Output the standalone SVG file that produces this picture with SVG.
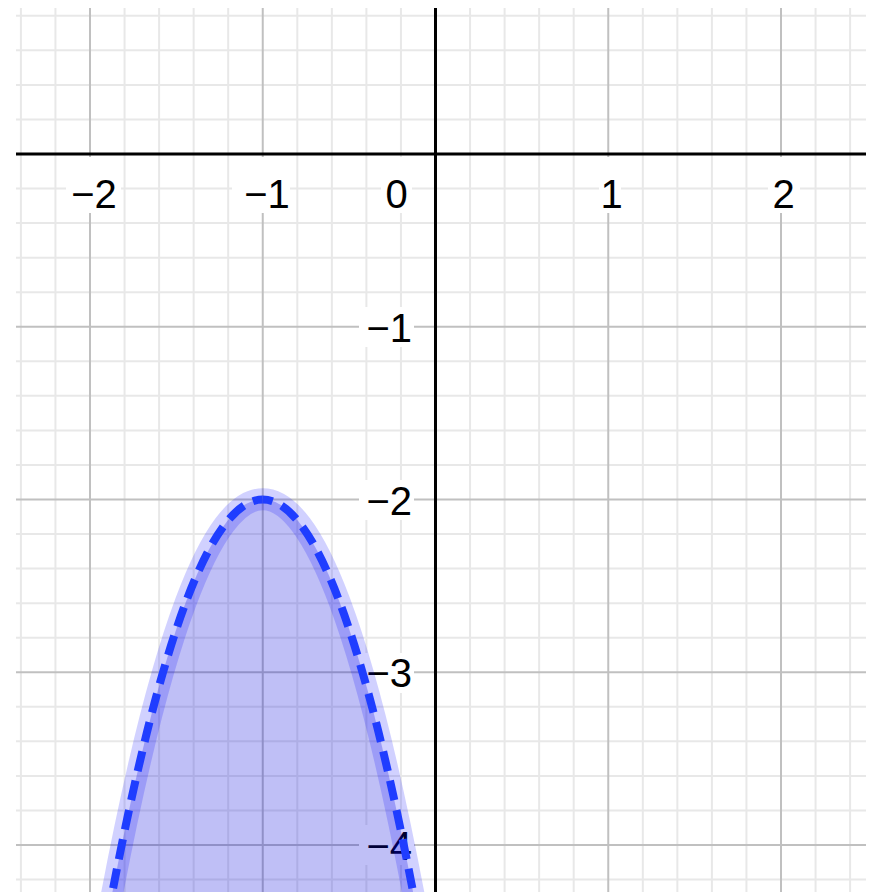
<svg xmlns="http://www.w3.org/2000/svg" width="873" height="892" viewBox="0 0 873 892">
  <style>
    .minor { stroke: #e8e8e8; stroke-width: 2; }
    .major { stroke: #c0c0c0; stroke-width: 2; }
    .axis { stroke: #000; stroke-width: 3; }
    .lbl { font-family: "Liberation Sans", Arial, sans-serif; font-size: 40px; fill: #000; }
    .bg { fill: #fff; }
    .dash { fill: none; stroke: #1f3dff; stroke-width: 8; stroke-dasharray: 20 10; stroke-dashoffset: 10; }
  </style>
  <rect x="0" y="0" width="873" height="892" fill="#fff"/>
  <g id="grid">
    <g class="minor">
      <line x1="20.9" y1="8" x2="20.9" y2="892"/>
      <line x1="55.45" y1="8" x2="55.45" y2="892"/>
      <line x1="124.55" y1="8" x2="124.55" y2="892"/>
      <line x1="159.1" y1="8" x2="159.1" y2="892"/>
      <line x1="193.65" y1="8" x2="193.65" y2="892"/>
      <line x1="228.2" y1="8" x2="228.2" y2="892"/>
      <line x1="297.3" y1="8" x2="297.3" y2="892"/>
      <line x1="331.85" y1="8" x2="331.85" y2="892"/>
      <line x1="366.4" y1="8" x2="366.4" y2="892"/>
      <line x1="400.95" y1="8" x2="400.95" y2="892"/>
      <line x1="470.05" y1="8" x2="470.05" y2="892"/>
      <line x1="504.6" y1="8" x2="504.6" y2="892"/>
      <line x1="539.15" y1="8" x2="539.15" y2="892"/>
      <line x1="573.7" y1="8" x2="573.7" y2="892"/>
      <line x1="642.8" y1="8" x2="642.8" y2="892"/>
      <line x1="677.35" y1="8" x2="677.35" y2="892"/>
      <line x1="711.9" y1="8" x2="711.9" y2="892"/>
      <line x1="746.45" y1="8" x2="746.45" y2="892"/>
      <line x1="815.55" y1="8" x2="815.55" y2="892"/>
      <line x1="850.1" y1="8" x2="850.1" y2="892"/>
      <line x1="16" y1="15.8" x2="866" y2="15.8"/>
      <line x1="16" y1="50.35" x2="866" y2="50.35"/>
      <line x1="16" y1="84.9" x2="866" y2="84.9"/>
      <line x1="16" y1="119.45" x2="866" y2="119.45"/>
      <line x1="16" y1="188.55" x2="866" y2="188.55"/>
      <line x1="16" y1="223.1" x2="866" y2="223.1"/>
      <line x1="16" y1="257.65" x2="866" y2="257.65"/>
      <line x1="16" y1="292.2" x2="866" y2="292.2"/>
      <line x1="16" y1="361.3" x2="866" y2="361.3"/>
      <line x1="16" y1="395.85" x2="866" y2="395.85"/>
      <line x1="16" y1="430.4" x2="866" y2="430.4"/>
      <line x1="16" y1="464.95" x2="866" y2="464.95"/>
      <line x1="16" y1="534.05" x2="866" y2="534.05"/>
      <line x1="16" y1="568.6" x2="866" y2="568.6"/>
      <line x1="16" y1="603.15" x2="866" y2="603.15"/>
      <line x1="16" y1="637.7" x2="866" y2="637.7"/>
      <line x1="16" y1="706.8" x2="866" y2="706.8"/>
      <line x1="16" y1="741.35" x2="866" y2="741.35"/>
      <line x1="16" y1="775.9" x2="866" y2="775.9"/>
      <line x1="16" y1="810.45" x2="866" y2="810.45"/>
      <line x1="16" y1="879.55" x2="866" y2="879.55"/>
    </g>
    <g class="major">
      <line x1="90" y1="8" x2="90" y2="892"/>
      <line x1="262.75" y1="8" x2="262.75" y2="892"/>
      <line x1="608.25" y1="8" x2="608.25" y2="892"/>
      <line x1="781" y1="8" x2="781" y2="892"/>
      <line x1="16" y1="326.75" x2="866" y2="326.75"/>
      <line x1="16" y1="499.5" x2="866" y2="499.5"/>
      <line x1="16" y1="672.25" x2="866" y2="672.25"/>
      <line x1="16" y1="845" x2="866" y2="845"/>
    </g>
  </g>
  <g id="axes">
    <line class="axis" x1="16" y1="154" x2="866" y2="154"/>
    <line class="axis" x1="435.5" y1="8" x2="435.5" y2="892"/>
  </g>
  <g id="labels">
    <rect class="bg" x="66" y="157" width="55" height="56"/>
    <rect class="bg" x="232" y="157" width="58" height="56"/>
    <rect class="bg" x="381" y="157" width="31" height="56"/>
    <rect class="bg" x="599" y="157" width="22" height="56"/>
    <rect class="bg" x="768" y="157" width="32" height="56"/>
    <rect class="bg" x="359" y="307" width="55" height="40"/>
    <rect class="bg" x="359" y="480" width="55" height="40"/>
    <rect class="bg" x="359" y="653" width="55" height="40"/>
    <rect class="bg" x="359" y="825" width="55" height="40"/>
    <text class="lbl" x="94" y="208" text-anchor="middle">−2</text>
    <text class="lbl" x="267" y="208" text-anchor="middle">−1</text>
    <text class="lbl" x="396.5" y="208" text-anchor="middle">0</text>
    <text class="lbl" x="611.5" y="208" text-anchor="middle">1</text>
    <text class="lbl" x="783.5" y="208" text-anchor="middle">2</text>
    <text class="lbl" x="412" y="341.5" text-anchor="end">−1</text>
    <text class="lbl" x="412" y="514.5" text-anchor="end">−2</text>
    <text class="lbl" x="412" y="687" text-anchor="end">−3</text>
    <text class="lbl" x="412" y="859.5" text-anchor="end">−4</text>
  </g>
  <g id="parabola">
    <path d="M109,910 Q262.75,88.5 416.5,910 Z" fill="rgb(0,0,220)" fill-opacity="0.25"/>
    <path d="M109,910 Q262.75,88.5 416.5,910" fill="none" stroke="rgb(0,0,255)" stroke-opacity="0.18" stroke-width="22"/>
    <path class="dash" d="M262.75,499.5 Q185.875,499.5 109,910"/>
    <path class="dash" d="M262.75,499.5 Q339.625,499.5 416.5,910"/>
  </g>
</svg>
